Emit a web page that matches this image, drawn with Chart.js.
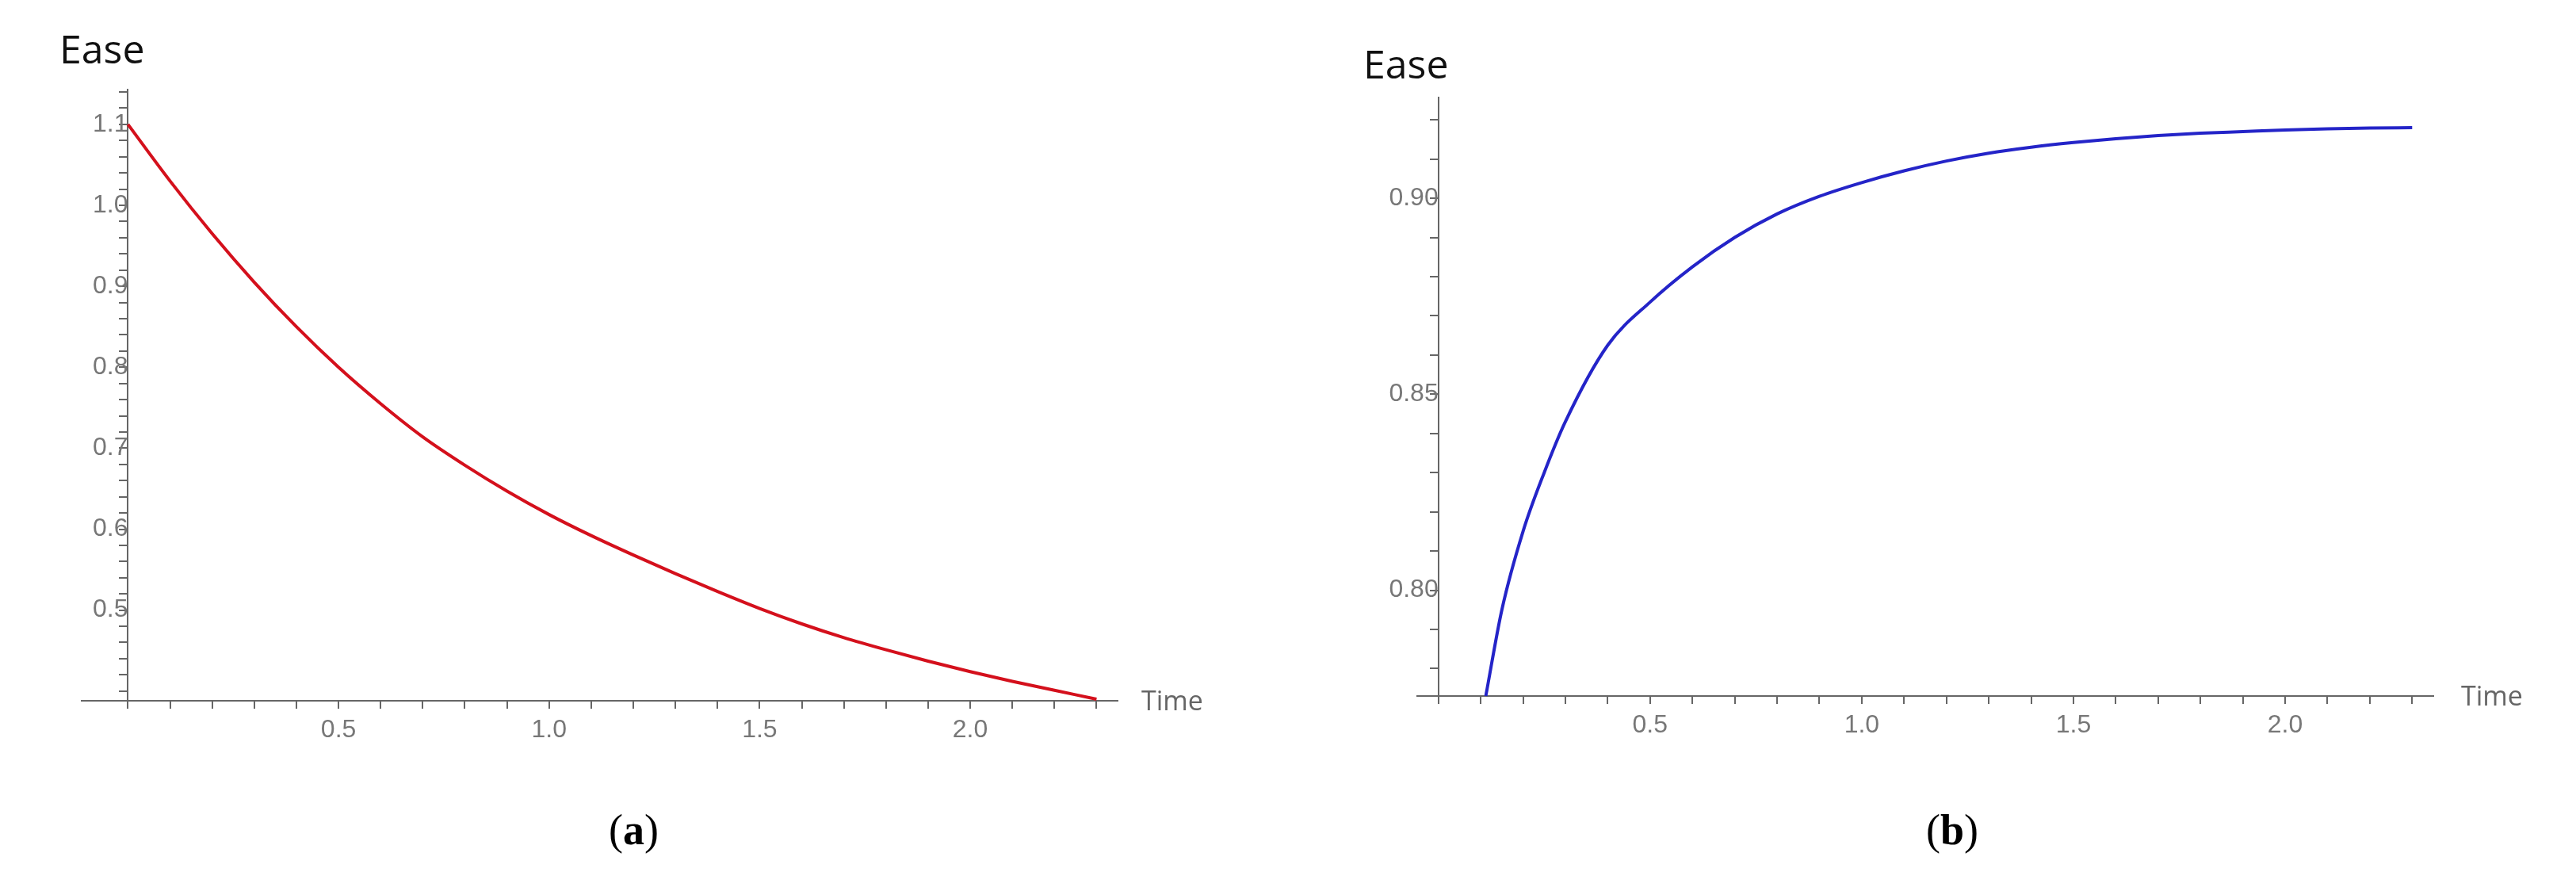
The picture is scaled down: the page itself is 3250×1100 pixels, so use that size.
<!DOCTYPE html>
<html><head><meta charset="utf-8">
<script src="https://cdn.jsdelivr.net/npm/chart.js@4/dist/chart.umd.min.js"></script>
<style>
body{margin:0;background:#fff;width:3250px;height:1100px;position:relative;overflow:hidden;font-family:"Open Sans",sans-serif}
.pane{position:absolute;top:0;width:1625px;height:1100px}
.lbl{position:absolute;white-space:nowrap;line-height:1}
.ease{font-size:50px;color:#111}
.time{font-size:34px;color:#666}
.cap{font-family:"Liberation Serif",serif;font-size:54px;color:#000}
</style></head><body>
<div class="pane" style="left:0"><canvas id="ca" width="1625" height="1100"></canvas></div>
<div class="pane" style="left:1625px"><canvas id="cb" width="1625" height="1100"></canvas></div>
<div class="lbl ease" style="left:75px;top:36px">Ease</div>
<div class="lbl time" style="left:1440px;top:866px">Time</div>
<div class="lbl cap" style="left:768px;top:1020px">(<b>a</b>)</div>
<div class="lbl ease" style="left:1720px;top:55px">Ease</div>
<div class="lbl time" style="left:3105px;top:860px">Time</div>
<div class="lbl cap" style="left:2430px;top:1020px">(<b>b</b>)</div>
<script>
const timeA = [0,0.1,0.2,0.3,0.4,0.5,0.6,0.7,0.8,0.9,1.0,1.1,1.2,1.3,1.4,1.5,1.6,1.7,1.8,1.9,2.0,2.1,2.2,2.3];
const easeA = [1.100,1.030,0.965,0.905,0.850,0.800,0.755,0.714,0.679,0.647,0.618,0.592,0.568,0.545,0.523,0.502,0.483,0.466,0.451,0.437,0.424,0.412,0.401,0.390];
const timeB = [0.112,0.15,0.2,0.25,0.3,0.4,0.5,0.6,0.7,0.8,0.9,1.0,1.1,1.2,1.3,1.4,1.5,1.6,1.7,1.8,1.9,2.0,2.1,2.2,2.3];
const easeB = [0.773,0.795,0.815,0.830,0.843,0.8625,0.8735,0.8825,0.890,0.896,0.9005,0.904,0.907,0.9095,0.9115,0.913,0.9142,0.9152,0.916,0.9166,0.917,0.9174,0.9177,0.9179,0.918];
const xTickLabelsA = [0.5,1.0,1.5,2.0];
const yTickLabelsA = [0.5,0.6,0.7,0.8,0.9,1.0,1.1];
const yTickLabelsB = [0.80,0.85,0.90];

function range(a,b,s){const r=[];for(let v=a;v<=b+1e-9;v+=s)r.push(+v.toFixed(4));return r;}
function isIn(v,arr){return arr.some(a=>Math.abs(a-v)<1e-6);}

function make(id,xs,ys,color,cfg){
  const gridOpt={drawOnChartArea:false,drawTicks:true,tickLength:10,color:'#666',lineWidth:2};
  return new Chart(document.getElementById(id),{
    type:'line',
    data:{datasets:[{data:xs.map((x,i)=>({x,y:ys[i]})),borderColor:color,borderWidth:4,pointRadius:0,cubicInterpolationMode:'monotone',clip:false}]},
    options:{responsive:false,animation:false,
      layout:{padding:cfg.pad},
      plugins:{legend:{display:false},tooltip:{enabled:false}},
      scales:{
        x:{type:'linear',min:cfg.xmin,max:cfg.xmax,position:'bottom',
          afterBuildTicks:s=>{s.ticks=range(0,2.3,0.1).map(v=>({value:v}));},
          afterFit:s=>{s.height=50;},
          grid:gridOpt,border:{color:'#666',width:2},
          ticks:{autoSkip:false,maxRotation:0,color:'#777',font:{size:32,family:'Arial'},padding:8,
            callback:v=>isIn(v,cfg.xl)?v.toFixed(1):''}},
        y:{type:'linear',min:cfg.ymin,max:cfg.ymax,position:{x:0},
          afterBuildTicks:s=>{s.ticks=cfg.yt.map(v=>({value:v}));},
          grid:gridOpt,border:{color:'#666',width:2},
          ticks:{autoSkip:false,color:'#777',font:{size:32,family:'Arial'},padding:22,
            callback:v=>isIn(v,cfg.yl)?v.toFixed(cfg.dec):''}}
      }}
  });
}
make('ca',timeA,easeA,'#d4101c',{pad:{left:103,top:113,right:215,bottom:166},xmin:-0.11,xmax:2.35,ymin:0.388,ymax:1.143,
  yt:range(0.40,1.14,0.02),yl:yTickLabelsA,xl:xTickLabelsA,dec:1});
make('cb',timeB,easeB,'#2424c8',{pad:{left:163,top:123,right:180,bottom:172},xmin:-0.05,xmax:2.35,ymin:0.773,ymax:0.9257,
  yt:range(0.78,0.925,0.01),yl:yTickLabelsB,xl:xTickLabelsA,dec:2});
</script></body></html>
